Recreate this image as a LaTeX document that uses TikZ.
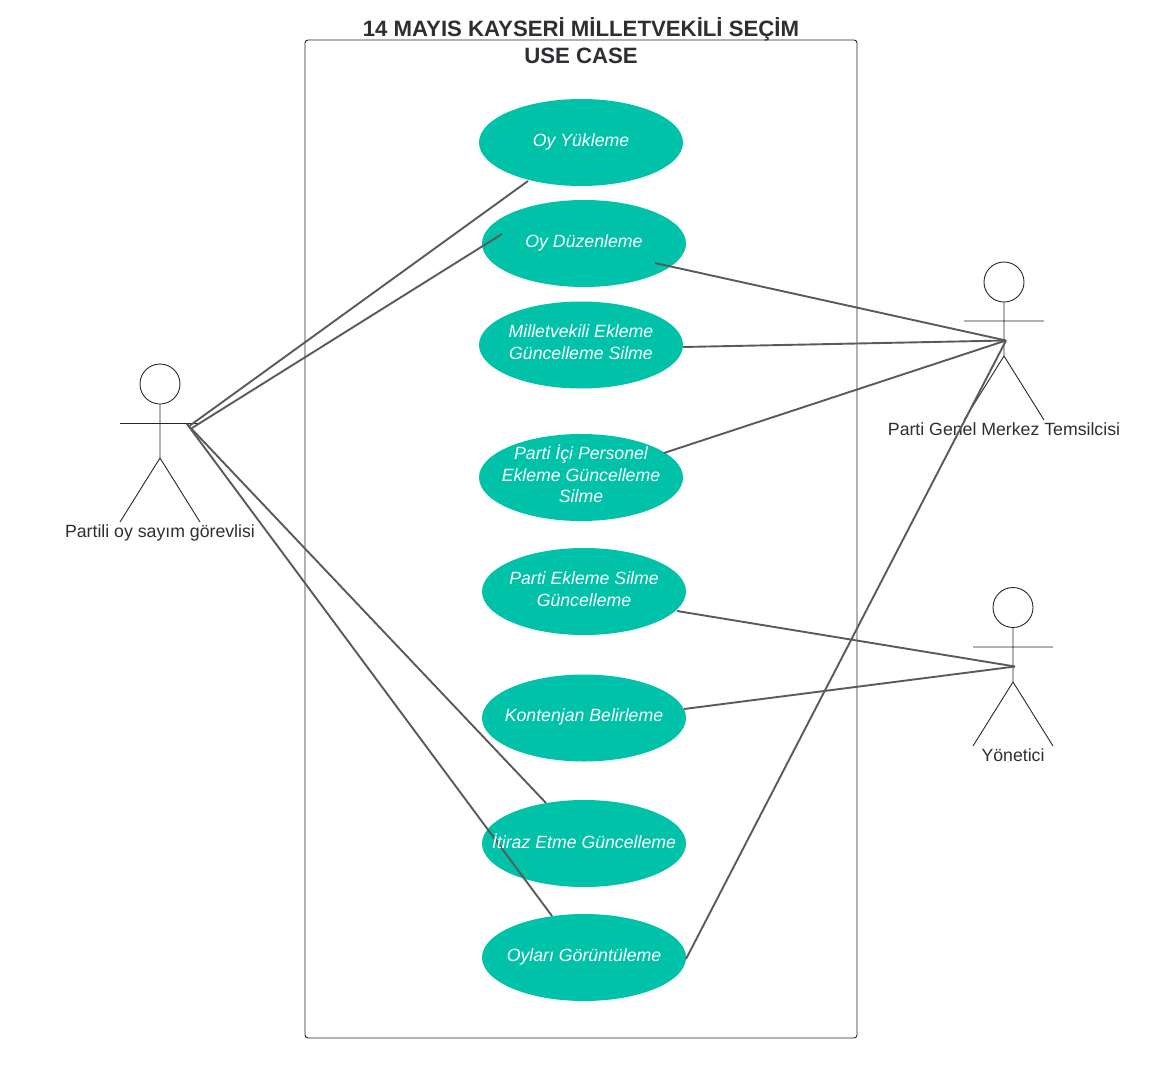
\documentclass[tikz,border=0pt]{standalone}
\usepackage{fontspec}
\setmainfont{Liberation Sans}
\usetikzlibrary{shapes.geometric}
\definecolor{uc}{HTML}{00C2A8}
\definecolor{ln}{HTML}{5A5A5A}
\definecolor{tx}{HTML}{2E2E33}
\tikzset{x=1pt,y=-1pt,
 usecase/.style={ellipse,fill=uc,minimum width=204pt,minimum height=87pt,inner sep=0pt},
 uctext/.style={text=white,align=center,inner sep=0pt,font=\itshape\fontsize{17.7}{21.5}\selectfont},
 link/.style={draw=ln,line width=1.9pt},
 actorline/.style={draw=black!85,line width=0.9pt},
 actorhead/.style={circle,draw=black!85,line width=0.9pt,minimum size=40pt,inner sep=0pt},
 actorlabel/.style={text=tx,font=\fontsize{17.7}{21}\selectfont,inner sep=0pt}}
\begin{document}
\begin{tikzpicture}
\useasboundingbox (0,0) rectangle (1173,1079);
\draw[actorline,rounded corners=3pt] (305,40) rectangle (857,1038);
\node[font=\bfseries\fontsize{22.2}{27}\selectfont,text=tx,align=center,inner sep=0pt] (title) at (581,41) {14 MAYIS KAYSERİ MİLLETVEKİLİ SEÇİM\\USE CASE};
\node[usecase] (u1) at (581,142.5) {};
\node[usecase] (u2) at (584,243.5) {};
\node[usecase] (u3) at (581,345) {};
\node[usecase] (u4) at (581,477.5) {};
\node[usecase] (u5) at (584,591.5) {};
\node[usecase] (u6) at (584,718) {};
\node[usecase] (u7) at (584,843.5) {};
\node[usecase] (u8) at (584,957.5) {};
\node[uctext] (t1) at (581,142) {Oy Yükleme};
\node[uctext] (t2) at (584,243) {Oy Düzenleme};
\node[uctext] (t3) at (581,342) {Milletvekili Ekleme\\Güncelleme Silme};
\node[uctext] (t4) at (581,474) {Parti İçi Personel\\Ekleme Güncelleme\\Silme};
\node[uctext] (t5) at (584,589) {Parti Ekleme Silme\\Güncelleme};
\node[uctext] (t6) at (584,717) {Kontenjan Belirleme};
\node[uctext] (t8) at (584,957) {Oyları Görüntüleme};
% actors
\node[actorhead] (ah) at (160,384) {};
\node[actorhead] (bh) at (1004,282) {};
\node[actorhead] (ch) at (1013,607.5) {};
\coordinate (ahip) at (160,458); \coordinate (al) at (120,522); \coordinate (ar) at (200,522);
\coordinate (aal) at (120,423.5); \coordinate (aar) at (200,423.5);
\coordinate (bhip) at (1004,356); \coordinate (bl) at (964,420); \coordinate (br) at (1044,420);
\coordinate (bal) at (964,321); \coordinate (bar) at (1044,321);
\coordinate (chip) at (1013,682); \coordinate (cl) at (973,746); \coordinate (cr) at (1053,746);
\coordinate (cal) at (973,647); \coordinate (car) at (1053,647);
\draw[actorline] (ah) -- (ahip) (al) -- (ahip) -- (ar) (aal) -- (aar);
\draw[actorline] (bh) -- (bhip) (bl) -- (bhip) -- (br) (bal) -- (bar);
\draw[actorline] (ch) -- (chip) (cl) -- (chip) -- (cr) (cal) -- (car);
\node[actorlabel] (al1) at (160,533) {Partili oy sayım görevlisi};
\node[actorlabel] (bl1) at (1004,429) {Parti Genel Merkez Temsilcisi};
\node[actorlabel] (cl1) at (1013,755) {Yönetici};
% connectors
\coordinate (p1) at (190,425.5); \coordinate (p2) at (192,428); \coordinate (p3) at (187,424);
\coordinate (q) at (1006,340.5); \coordinate (r) at (1015,666.5);
\coordinate (e1) at (528,181); \coordinate (e2) at (502,234); \coordinate (e3) at (655,263);
\coordinate (e4) at (683,347); \coordinate (e5) at (664,453); \coordinate (e6) at (677,611);
\coordinate (e7) at (684,709); \coordinate (e8) at (546,803); \coordinate (e9) at (552,916); \coordinate (e10) at (686,959);
\draw[link] (p1) -- (e1);
\draw[link] (p2) -- (e2);
\draw[link] (p3) -- (e8);
\draw[link] (p3) -- (e9);
\draw[link] (q) -- (e3);
\draw[link] (q) -- (e4);
\draw[link] (q) -- (e5);
\draw[link] (q) -- (e10);
\draw[link] (r) -- (e6);
\draw[link] (r) -- (e7);
\node[uctext] (t7) at (584,841) {İtiraz Etme Güncelleme};
\end{tikzpicture}
\end{document}
